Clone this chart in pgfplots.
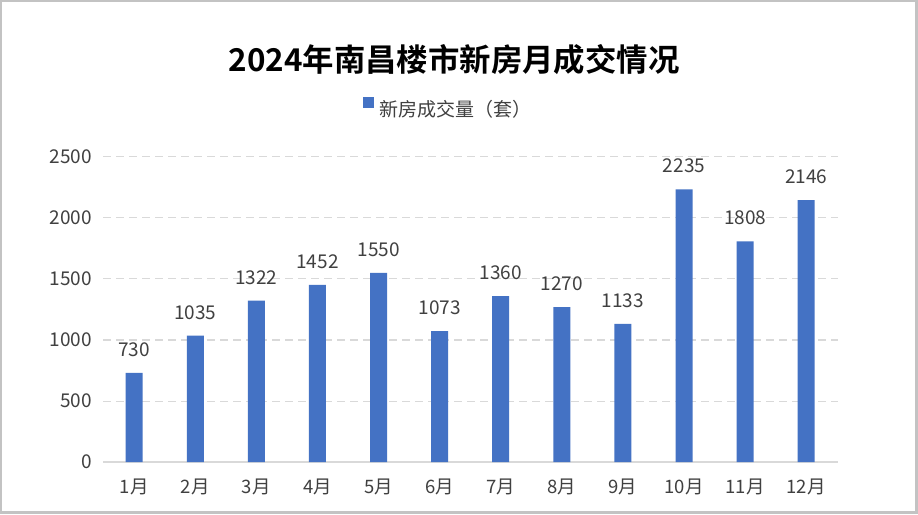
\documentclass[border=0pt]{standalone}
\usepackage{fontspec}
\setmainfont{Noto Sans CJK SC}[BoldFont={Noto Sans CJK SC Bold}]
\usepackage{pgfplots}
\pgfplotsset{compat=1.18}
\definecolor{barblue}{HTML}{4472C4}
\definecolor{gridgray}{HTML}{D9D9D9}
\definecolor{txtgray}{HTML}{404040}
\definecolor{framegray}{HTML}{C3C3C3}
\begin{document}
\begin{tikzpicture}
\fill[framegray] (0pt,0pt) rectangle (918pt,514pt);
\fill[white] (2pt,3pt) rectangle (915pt,512pt);
\node[anchor=base, inner sep=0pt] at (454pt,442pt) {\fontsize{31.4pt}{36pt}\selectfont\bfseries 2024年南昌楼市新房月成交情况};
\begin{axis}[
  at={(103pt,52pt)}, anchor=south west,
  scale only axis, width=735pt, height=305pt,
  ybar, bar width=17pt,
  xmin=-0.51, xmax=11.52, ymin=0, ymax=2500,
  ytick={0,500,1000,1500,2000,2500},
  xtick={0,1,2,3,4,5,6,7,8,9,10,11},
  xticklabels={1月,2月,3月,4月,5月,6月,7月,8月,9月,10月,11月,12月},
  /pgf/number format/assume math mode=true,
  /pgf/number format/1000 sep={},
  axis x line*=bottom, axis y line*=left,
  x axis line style={draw=gridgray, line width=1.3pt, -},
  y axis line style={draw=none},
  major tick length=0pt,
  ymajorgrids, grid style={gridgray, line width=1pt, dash pattern=on 8pt off 5pt},
  yticklabel style={anchor=east, inner sep=0pt, xshift=-11pt, text=txtgray, font=\fontsize{19pt}{22pt}\selectfont},
  xticklabel style={anchor=base, inner sep=0pt, yshift=-31pt, text=txtgray, font=\fontsize{18.5pt}{22pt}\selectfont},
  nodes near coords,
  every node near coord/.append style={anchor=south, inner sep=0pt, yshift=16pt, text=txtgray, font=\fontsize{19pt}{22pt}\selectfont},
  legend style={at={(0.3537,1.162)}, anchor=west, draw=none, fill=none, inner sep=0pt, outer sep=0pt,
    nodes={inner sep=0pt}, font=\fontsize{19pt}{22pt}\selectfont, text=txtgray,
    /tikz/every odd column/.append style={column sep=6pt}},
  legend image code/.code={\fill[barblue] (0pt,1pt) rectangle (11pt,12pt);},
]
\addplot[fill=barblue, draw=none] coordinates {
  (0,730) (1,1035) (2,1322) (3,1452) (4,1550) (5,1073)
  (6,1360) (7,1270) (8,1133) (9,2235) (10,1808) (11,2146)
};
\addlegendentry{新房成交量（套）}
\end{axis}
\end{tikzpicture}
\end{document}
